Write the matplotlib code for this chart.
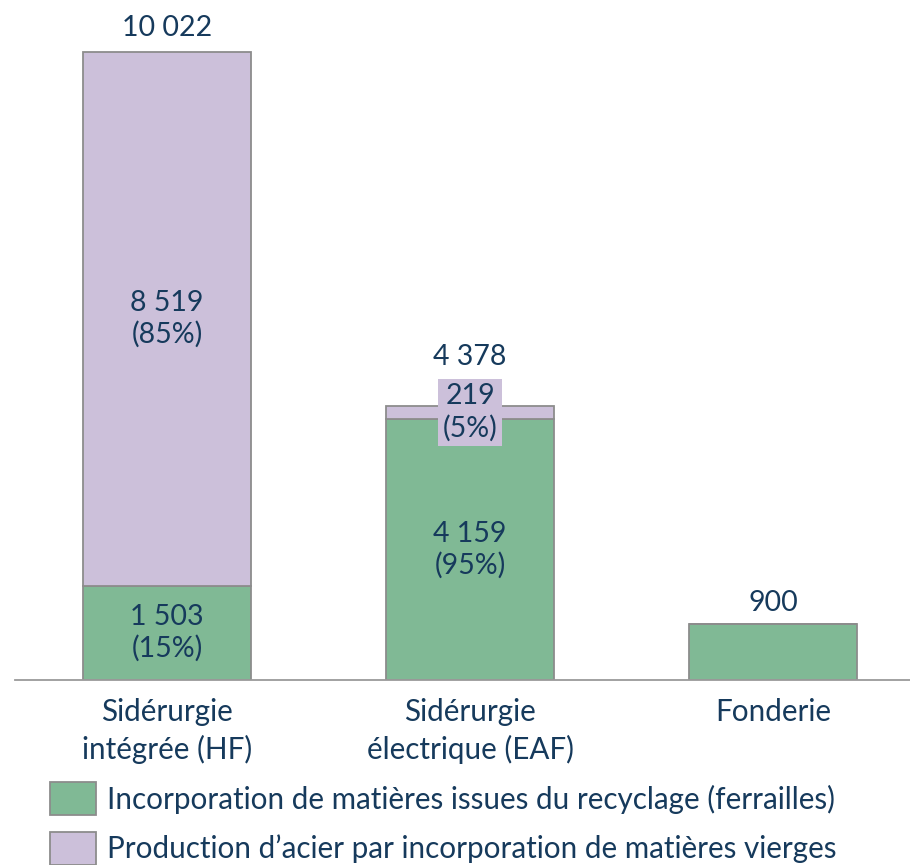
import matplotlib.pyplot as plt
from matplotlib.patches import Rectangle

plt.rcParams['font.family'] = ['Lato', 'DejaVu Sans']

categories = ["Sidérurgie\nintégrée (HF)", "Sidérurgie\nélectrique (EAF)", "Fonderie"]
recycled = [1503, 4159, 900]
virgin = [8519, 219, 0]
recycled_pct = [15, 95, None]
virgin_pct = [85, 5, None]
legend_labels = ["Incorporation de matières issues du recyclage (ferrailles)",
                 "Production d\u2019acier par incorporation de matières vierges"]

green = '#80b995'
purple = '#ccc0da'
edge = '#8c8c8c'
txt = '#163a5c'
fs = 21.3
fs_num = 20.5


def fmt(v):
    return f"{v:,}".replace(",", " ")


fig = plt.figure(figsize=(9.1, 8.65), dpi=100)
ax = fig.add_axes([15 / 910, 185 / 865, 895 / 910, 670 / 865])

x = list(range(len(categories)))
totals = [r + v for r, v in zip(recycled, virgin)]

ax.bar(x, recycled, width=0.555, color=green, edgecolor=edge, linewidth=1.3)
ax.bar(x, virgin, bottom=recycled, width=0.555, color=purple, edgecolor=edge, linewidth=1.3)

ax.set_xlim(-0.502, 2.452)
ax.set_ylim(0, 10692)

for i in x:
    if recycled_pct[i] is not None:
        ax.text(i, recycled[i] / 2, f"{fmt(recycled[i])}\n({recycled_pct[i]}%)",
                ha='center', va='center', fontsize=fs_num, color=txt, linespacing=1.25)
    if virgin_pct[i] is not None:
        mid = recycled[i] + virgin[i] / 2
        if virgin[i] > 1000:
            ax.text(i, mid, f"{fmt(virgin[i])}\n({virgin_pct[i]}%)",
                    ha='center', va='center', fontsize=fs_num, color=txt, linespacing=1.25)
        else:
            ax.text(i, mid, f"{fmt(virgin[i])}\n({virgin_pct[i]}%)",
                    ha='center', va='center', fontsize=fs_num, color=txt, linespacing=1.25,
                    bbox=dict(facecolor=purple, edgecolor='none', pad=3))

# totals above bars
offsets = [24, 49, 21]
for i in x:
    ax.annotate(fmt(totals[i]), (i, totals[i]), xytext=(0, offsets[i] * 0.72),
                textcoords='offset points', ha='center', va='center',
                fontsize=fs_num, color=txt)

ax.set_xticks(x)
ax.set_xticklabels(categories, fontsize=fs, color=txt, linespacing=1.38, va='top')
ax.tick_params(axis='x', length=0, pad=13)
ax.set_yticks([])
for s in ['top', 'left', 'right']:
    ax.spines[s].set_visible(False)
ax.spines['bottom'].set_color('#9a9a9a')
ax.spines['bottom'].set_linewidth(1.3)

# legend
for k, (lab, col) in enumerate(zip(legend_labels, [green, purple])):
    ytop = 782 + k * 50
    fig.add_artist(Rectangle((50 / 910, 1 - (ytop + 33) / 865), 46 / 910, 33 / 865,
                             transform=fig.transFigure, facecolor=col, edgecolor=edge,
                             linewidth=1.3))
    fig.text(107 / 910, 1 - (ytop + 17) / 865, lab, ha='left', va='center',
             fontsize=fs, color=txt)

fig.savefig('out.png', dpi=100)
